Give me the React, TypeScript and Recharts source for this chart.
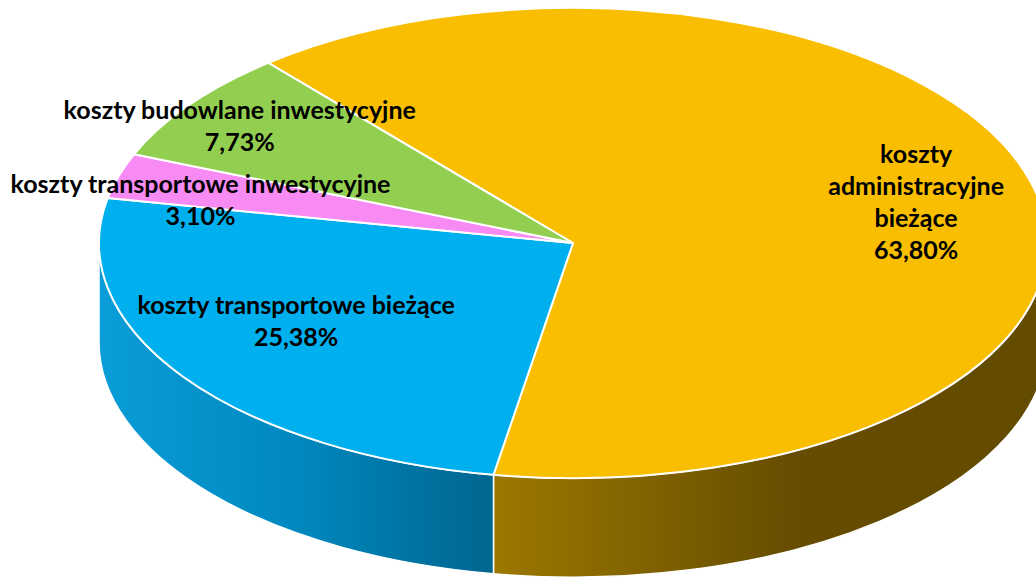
import React from 'react'
import { PieChart, Pie, Cell } from 'recharts'

const categories = [
  'koszty administracyjne bieżące',
  'koszty transportowe bieżące',
  'koszty transportowe inwestycyjne',
  'koszty budowlane inwestycyjne',
]
const shares = [63.8, 25.38, 3.1, 7.73]
const wrapLabel = [true, false, false, false]

const data = categories.map((name, i) => ({ name, value: shares[i] }))

// styling
const TOP_COLORS = ['#F9BE00', '#00AFEE', '#F78AF3', '#92CF50']
const SIDE_STOPS = [
  [
    ['0', '#9C7800'],
    ['0.55', '#654C00'],
    ['1', '#634B00'],
  ],
  [
    ['0', '#0A9DD8'],
    ['0.5', '#0088BF'],
    ['1', '#00668F'],
  ],
  [['0', '#B060B0'], ['1', '#B060B0']],
  [['0', '#6A9A38'], ['1', '#6A9A38']],
]
const LABEL_POS = [
  { r: 0.75, dy: 4 },
  { r: 0.71, dy: -18 },
  { r: 0.82, dy: 11 },
  { r: 0.87, dy: 2 },
]
const RY_RATIO = 0.496
const DEPTH = 99
const RAD = Math.PI / 180
const LINE_H = 32

const pt = (cx: number, cy: number, rx: number, ry: number, a: number) => [
  cx + rx * Math.cos(a * RAD),
  cy - ry * Math.sin(a * RAD),
]

const idxOf = (p: any) => {
  const n = p.name ?? p.payload?.name
  const i = categories.indexOf(n)
  return i >= 0 ? i : p.index ?? 0
}

function TopFace(props: any) {
  const { cx, cy, outerRadius, startAngle, endAngle } = props
  const i = idxOf(props)
  const rx = outerRadius
  const ry = outerRadius * RY_RATIO
  const [x1, y1] = pt(cx, cy, rx, ry, startAngle)
  const [x2, y2] = pt(cx, cy, rx, ry, endAngle)
  const large = Math.abs(startAngle - endAngle) > 180 ? 1 : 0
  const sweep = startAngle > endAngle ? 1 : 0
  return (
    <path
      d={`M${cx},${cy} L${x1},${y1} A${rx},${ry} 0 ${large} ${sweep} ${x2},${y2} Z`}
      fill={TOP_COLORS[i]}
      stroke="#fff"
      strokeWidth={2}
      strokeLinejoin="round"
    />
  )
}

function SideWall(props: any) {
  const { cx, cy, outerRadius, startAngle, endAngle } = props
  const i = idxOf(props)
  const rx = outerRadius
  const ry = outerRadius * RY_RATIO
  const hi = Math.max(startAngle, endAngle)
  const lo = Math.min(startAngle, endAngle)
  const parts: number[][] = []
  for (let k = -2; k <= 2; k++) {
    const b1 = Math.max(lo, -180 + 360 * k)
    const b2 = Math.min(hi, 360 * k)
    if (b2 > b1) parts.push([b1, b2])
  }
  return (
    <g>
      {parts.map(([b1, b2], j) => {
        const [xa, ya] = pt(cx, cy, rx, ry, b2)
        const [xb, yb] = pt(cx, cy, rx, ry, b1)
        return (
          <path
            key={j}
            d={`M${xa},${ya} A${rx},${ry} 0 0 1 ${xb},${yb} L${xb},${yb + DEPTH} A${rx},${ry} 0 0 0 ${xa},${ya + DEPTH} Z`}
            fill={`url(#side${i})`}
            stroke="#fff"
            strokeWidth={1.5}
            strokeLinejoin="round"
          />
        )
      })}
    </g>
  )
}

function renderLabel(props: any) {
  const { cx, cy, midAngle, outerRadius, value } = props
  const i = idxOf(props)
  const pos = LABEL_POS[i]
  const rx = outerRadius
  const ry = outerRadius * RY_RATIO
  const x = cx + pos.r * rx * Math.cos(midAngle * RAD)
  const y = cy - pos.r * ry * Math.sin(midAngle * RAD) + pos.dy
  const name = categories[i]
  const lines = wrapLabel[i] ? name.split(' ') : [name]
  lines.push(`${Number(value).toFixed(2).replace('.', ',')}%`)
  const y0 = y - ((lines.length - 1) * LINE_H) / 2
  return (
    <text
      x={x}
      y={y0}
      textAnchor="middle"
      dominantBaseline="central"
      fontFamily="Lato, 'Open Sans', sans-serif"
      fontWeight="bold"
      fontSize={25}
      fill="#000"
    >
      {lines.map((l, j) => (
        <tspan key={j} x={x} y={y0 + j * LINE_H}>
          {l}
        </tspan>
      ))}
    </text>
  )
}

export default function App() {
  return (
    <div style={{ width: 1036, height: 579, background: '#fff' }}>
      <style>{'body{margin:0}'}</style>
      <PieChart width={1036} height={579} margin={{ top: 0, right: 0, bottom: 0, left: 0 }}>
        <defs>
          {SIDE_STOPS.map((stops, i) => (
            <linearGradient key={i} id={`side${i}`} x1="0" y1="0" x2="1" y2="0">
              {stops.map(([o, c], j) => (
                <stop key={j} offset={o} stopColor={c} />
              ))}
            </linearGradient>
          ))}
        </defs>
        <Pie
          data={data}
          dataKey="value"
          nameKey="name"
          cx={573}
          cy={243}
          outerRadius={474}
          startAngle={130}
          endAngle={-230}
          stroke="none"
          shape={SideWall}
          isAnimationActive={false}
        >
          {data.map((d, i) => (
            <Cell key={d.name} fill={TOP_COLORS[i]} />
          ))}
        </Pie>
        <Pie
          data={data}
          dataKey="value"
          nameKey="name"
          cx={573}
          cy={243}
          outerRadius={474}
          startAngle={130}
          endAngle={-230}
          stroke="#fff"
          shape={TopFace}
          label={renderLabel}
          labelLine={false}
          isAnimationActive={false}
        >
          {data.map((d, i) => (
            <Cell key={d.name} fill={TOP_COLORS[i]} />
          ))}
        </Pie>
      </PieChart>
    </div>
  )
}
